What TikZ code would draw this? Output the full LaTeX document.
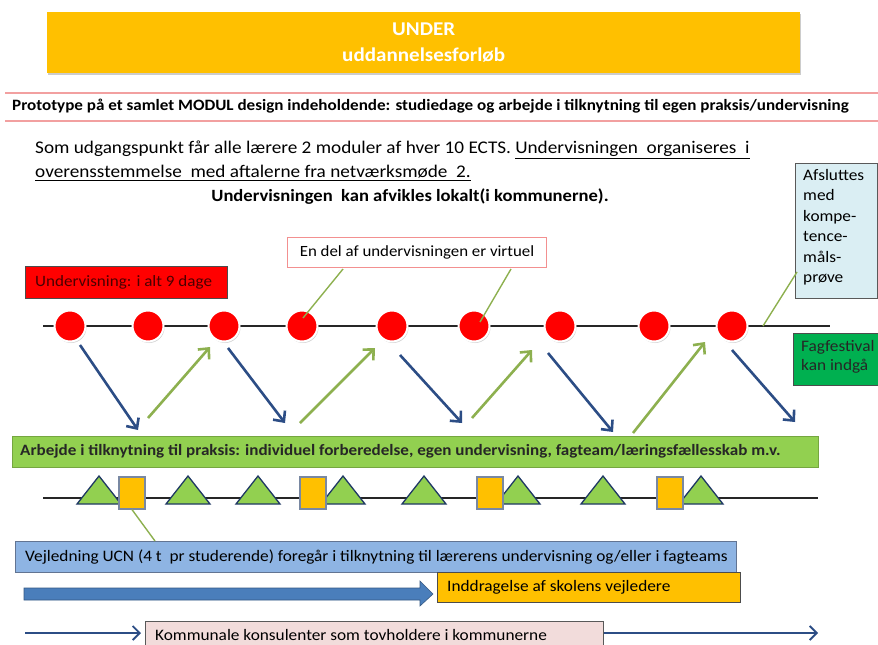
\documentclass[tikz,border=0pt]{standalone}
\usepackage{fontspec}
\setmainfont{Carlito}[FakeStretch=1.08]
\usetikzlibrary{arrows.meta,shadows,calc}
\definecolor{gold}{HTML}{FFC000}
\definecolor{pinkline}{HTML}{F2A0A0}
\definecolor{arrblue}{HTML}{2C4D85}
\definecolor{arrgreen}{HTML}{8DB04F}
\definecolor{barge}{HTML}{92D050}
\definecolor{trigreen}{HTML}{92D050}
\definecolor{navy}{HTML}{1F3864}
\definecolor{lightblue}{HTML}{DAEEF3}
\definecolor{vejblue}{HTML}{8EB4E3}
\definecolor{festgreen}{HTML}{00B050}
\definecolor{kompink}{HTML}{F2DCDB}
\definecolor{thickblue}{HTML}{4A7EBB}
\definecolor{darkred}{HTML}{4A0000}
\tikzset{
  txt/.style={inner sep=0pt, anchor=west, font=\fontsize{16}{18}\selectfont},
  dot/.style={circle, fill=red, draw=white, line width=2pt, minimum size=31pt, inner sep=0pt,
    drop shadow={opacity=0.35, shadow xshift=1pt, shadow yshift=-1.5pt}},
  downarr/.style={draw=arrblue, line width=2.6pt, -{Straight Barb[length=8pt,width=15pt]}},
  uparr/.style={draw=arrgreen, line width=2.6pt, -{Straight Barb[length=8pt,width=15pt]}},
  callout/.style={draw=arrgreen, line width=1.4pt},
  tri/.style={fill=trigreen, draw=navy, line width=1.3pt, line join=miter},
  orect/.style={fill=gold, draw=navy!60, line width=1.2pt, minimum width=26pt, minimum height=32pt, inner sep=0pt},
  thinarr/.style={draw=arrblue, line width=1.8pt, -{Straight Barb[length=7pt,width=14pt]}},
}
\begin{document}
\begin{tikzpicture}[x=1pt,y=-1pt]
\useasboundingbox (0,0) rectangle (878,645);

% title
\node[fill=gold, minimum width=753pt, minimum height=61pt, inner sep=0pt, anchor=north west,
  drop shadow={opacity=0.4, shadow xshift=1pt, shadow yshift=-2pt}, text=white, align=center,
  font=\bfseries\fontsize{19.5}{26}\selectfont] (title) at (47,12) {UNDER\\uddannelsesforløb};

% prototype line
\draw[pinkline, line width=1.3pt] (5,93) -- (878,93);
\draw[pinkline, line width=1.3pt] (5,121) -- (878,121);
\node[txt, font=\bfseries\fontsize{15.8}{18}\selectfont] (proto) at (12,106) {Prototype på et samlet MODUL design indeholdende: studiedage og arbejde i tilknytning til egen praksis/undervisning};

% intro text
\node[txt, font=\fontsize{17.8}{20}\selectfont] (l1) at (35,150) {Som udgangspunkt får alle lærere 2 moduler af hver 10 ECTS. \underline{Undervisningen\ \ organiseres\ \ i}};
\node[txt, font=\fontsize{17.8}{20}\selectfont] (l2) at (35,173) {\underline{overensstemmelse\ \ med aftalerne\ fra netværksmøde\ \ 2.}};
\node[txt, font=\bfseries\fontsize{17.2}{20}\selectfont, anchor=center] (l3) at (410,197) {Undervisningen\ \ kan afvikles lokalt(i kommunerne).};

% Afsluttes box
\node[draw=gray!70!black, fill=lightblue, line width=0.8pt, anchor=north west, minimum width=82pt, minimum height=135pt, inner sep=0pt] (afs) at (795,163) {};
\node[anchor=north west, align=left, inner sep=0pt, font=\fontsize{16}{20.5}\selectfont] (afst) at (803,169) {Afsluttes\\med\\kompe-\\tence-\\måls-\\prøve};

% En del box
\node[draw=pinkline!90!red, fill=white, line width=1pt, anchor=north west, minimum width=259pt, minimum height=30pt, inner sep=0pt,
  font=\fontsize{15.6}{17}\selectfont] (virt) at (287,237) {En del af undervisningen er virtuel};

% red box
\node[fill=red, draw=gray!60!black, line width=0.6pt, anchor=north west, minimum width=202pt, minimum height=32pt, inner sep=0pt] (und) at (25,266) {};
\node[txt, text=darkred, font=\fontsize{15.8}{17}\selectfont] (undt) at (35,282) {Undervisning: i alt 9 dage};

% Fagfestival box
\node[fill=festgreen, draw=gray!60!black, line width=0.5pt, anchor=north west, minimum width=86pt, minimum height=52pt, inner sep=0pt] (fest) at (793,333) {};
\node[anchor=north west, inner sep=0pt, align=left, text=black!85, font=\fontsize{16}{19.5}\selectfont] (festt) at (801,340) {Fagfestival\\kan indgå};

% main line with dots
\coordinate (ls) at (43,326);
\coordinate (le) at (830,326);
\draw[line width=2.6pt, black!85] (ls) -- (le);
\foreach \i/\x in {1/70,2/148,3/224,4/302,5/392,6/474,7/560,8/654,9/732} {
  \node[dot] (c\i) at (\x,326) {};
}

% callouts
\draw[callout] ($(virt.south west)+(56,1)$) -- ($(c4)+(1,-8)$);
\draw[callout] ($(virt.south west)+(224,1)$) -- ($(c6)+(6,-4)$);
\coordinate (afsend) at (763,326);
\draw[callout] ($(afs.north west)+(2,109)$) -- (afsend);

% down arrows
\coordinate (d1) at (138,430);
\coordinate (d2) at (285,423);
\coordinate (d3) at (462,423);
\coordinate (d4) at (613,432);
\coordinate (d5) at (795,422);
\draw[downarr] ($(c1)+(10,19)$) -- (d1);
\draw[downarr] ($(c3)+(4,22)$) -- (d2);
\draw[downarr] ($(c5)+(8,29)$) -- (d3);
\draw[downarr] ($(c7)+(-12,27)$) -- (d4);
\draw[downarr] ($(c9)+(0,24)$) -- (d5);

% up arrows
\coordinate (u1) at (148,418);
\coordinate (u2) at (300,423);
\coordinate (u3) at (472,418);
\coordinate (u4) at (633,433);
\draw[uparr] (u1) -- ($(c3)+(-14,21)$);
\draw[uparr] (u2) -- ($(c5)+(-17,22)$);
\draw[uparr] (u3) -- ($(c7)+(-28,24)$);
\draw[uparr] (u4) -- ($(c9)+(-27,16)$);

% green bar
\node[fill=barge, draw=barge!80!black, line width=0.4pt, anchor=north west, minimum width=806pt, minimum height=31pt, inner sep=0pt] (bar) at (12,436) {};
\node[txt, font=\bfseries\fontsize{15.8}{18}\selectfont, text=black!85] (bart) at (20,451) {Arbejde i tilknytning til praksis: individuel forberedelse, egen undervisning, fagteam/læringsfællesskab m.v.};

% second line
\coordinate (ms) at (43,498);
\coordinate (me) at (818,498);
\draw[line width=2.6pt, black!85] (ms) -- (me);
\foreach \x in {99,188,258,343,424,518,603,701} {
  \draw[tri] (\x-22,504) -- (\x,476) -- (\x+22,504) -- cycle;
}
\node[orect] (r1) at (132,493) {};
\node[orect] (r2) at (313,493) {};
\node[orect] (r3) at (490,493) {};
\node[orect] (r4) at (670,493) {};

% Vejledning box
\node[fill=vejblue, draw=navy!70, line width=0.8pt, anchor=north west, minimum width=721pt, minimum height=31pt, inner sep=0pt] (vej) at (15,541) {};
\node[txt, font=\fontsize{16}{18}\selectfont] (vejt) at (25,557) {Vejledning UCN (4 t\ \ pr studerende) foregår i tilknytning til lærerens undervisning og/eller i fagteams};
\draw[callout] (r1.south) -- ($(vej.north west)+(140,0)$);

% thick arrow and orange box
\filldraw[fill=thickblue, draw=thickblue!70!black, line width=0.6pt]
  (24,588) -- (420,588) -- (420,581) -- (433,594) -- (420,606) -- (420,600) -- (24,600) -- cycle;
\node[fill=gold, draw=gray!60!black, line width=0.6pt, anchor=north west, minimum width=303pt, minimum height=30pt, inner sep=0pt] (indd) at (437,572) {};
\node[txt, font=\fontsize{16}{18}\selectfont] (inddt) at (447,587) {Inddragelse af skolens vejledere};

% bottom arrow and pink box
\node[fill=kompink, draw=gray!70!black, line width=0.6pt, anchor=north west, minimum width=458pt, minimum height=30pt, inner sep=0pt] (kom) at (145,621) {};
\node[txt, font=\fontsize{16}{18}\selectfont] (komt) at (155,635) {Kommunale konsulenter som tovholdere i kommunerne};
\coordinate (ka) at (25,633);
\coordinate (kb) at (818,633);
\draw[thinarr] (ka) -- ($(kom.north west)+(-4,12)$);
\draw[thinarr] ($(kom.north east)+(0,12)$) -- (kb);
\end{tikzpicture}
\end{document}
